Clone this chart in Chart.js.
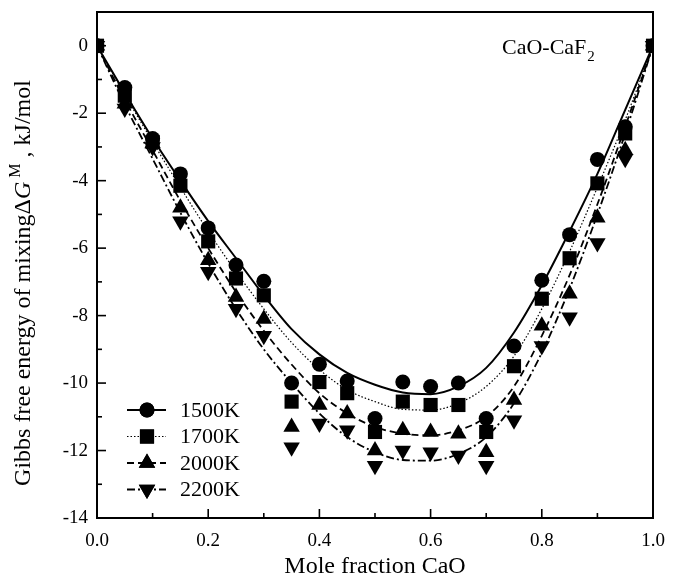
<!DOCTYPE html>
<html>
<head>
<meta charset="utf-8">
<script src="https://cdn.jsdelivr.net/npm/chart.js@4/dist/chart.umd.min.js"></script>
<style>
  html, body { margin: 0; padding: 0; background: #fff; }
  #wrap { width: 677px; height: 585px; }
</style>
</head>
<body>
<div id="wrap"><canvas id="c"></canvas></div>
<script>
// datos (CaO-CaF2, energía libre de mezcla)
const seriesNames = ['1500K', '1700K', '2000K', '2200K'];

// puntos experimentales
const xPts    = [0, 0.05, 0.1, 0.15, 0.2, 0.25, 0.3, 0.35, 0.4, 0.45, 0.5, 0.55, 0.6, 0.65, 0.7, 0.75, 0.8, 0.85, 0.9, 0.95, 1];
const pts1500 = [0, -1.24, -2.75, -3.8, -5.4, -6.5, -6.98, -10.0, -9.44, -9.94, -11.05, -9.97, -10.1, -10.0, -11.05, -8.9, -6.95, -5.6, -3.37, -2.4, 0];
const pts1700 = [0, -1.48, -2.85, -4.15, -5.8, -6.9, -7.4, -10.55, -9.97, -10.3, -11.45, -10.55, -10.65, -10.65, -11.45, -9.5, -7.5, -6.3, -4.08, -2.6, 0];
const pts2000 = [0, -1.72, -2.9, -4.8, -6.36, -7.45, -8.1, -11.3, -10.65, -10.9, -12.0, -11.4, -11.45, -11.5, -12.05, -10.5, -8.3, -7.35, -5.1, -3.1, 0];
const pts2200 = [0, -1.86, -3.0, -5.2, -6.7, -7.8, -8.6, -11.9, -11.2, -11.4, -12.45, -12.0, -12.05, -12.15, -12.45, -11.1, -8.9, -8.05, -5.85, -3.35, 0];

// curvas ajustadas
const xCurve    = [0, 0.05, 0.1, 0.15, 0.2, 0.25, 0.3, 0.35, 0.4, 0.45, 0.5, 0.55, 0.6, 0.65, 0.7, 0.75, 0.8, 0.85, 0.9, 0.95, 1];
const curve1500 = [0, -1.4, -2.75, -4.0, -5.2, -6.3, -7.4, -8.4, -9.15, -9.7, -10.05, -10.28, -10.33, -10.1, -9.55, -8.5, -7.1, -5.5, -3.8, -1.9, 0];
const curve1700 = [0, -1.45, -2.85, -4.2, -5.5, -6.7, -7.8, -8.8, -9.6, -10.2, -10.55, -10.78, -10.8, -10.6, -10.1, -9.2, -7.8, -6.1, -4.2, -2.2, 0];
const curve2000 = [0, -1.6, -3.1, -4.6, -6.0, -7.3, -8.45, -9.45, -10.3, -10.9, -11.3, -11.5, -11.55, -11.4, -11.0, -10.1, -8.6, -6.8, -4.7, -2.4, 0];
const curve2200 = [0, -1.75, -3.35, -4.95, -6.45, -7.8, -9.0, -10.0, -10.9, -11.6, -12.05, -12.28, -12.3, -12.1, -11.6, -10.6, -9.1, -7.2, -5.0, -2.6, 0];

const xTicks = [0, 0.1, 0.2, 0.3, 0.4, 0.5, 0.6, 0.7, 0.8, 0.9, 1.0];
const yTicks = [-14, -13, -12, -11, -10, -9, -8, -7, -6, -5, -4, -3, -2, -1, 0];

const SERIF = '"Liberation Serif", "Times New Roman", serif';

// estilo de cada serie: marcador + tipo de línea
const styles = [
  { point: 'circle',   radius: 7.5, rot: 0,   dash: [],           width: 2   },
  { point: 'rect',     radius: 10,  rot: 0,   dash: [1.5, 2],     width: 1.2 },
  { point: 'triangle', radius: 9.5, rot: 0,   dash: [7, 4],       width: 1.8 },
  { point: 'triangle', radius: 9.5, rot: 180, dash: [8, 3, 2, 3], width: 1.8 },
];

const ptsAll   = [pts1500, pts1700, pts2000, pts2200];
const curveAll = [curve1500, curve1700, curve2000, curve2200];

const toXY = (xs, ys) => xs.map((x, i) => ({ x, y: ys[i] }));

const datasets = [];
curveAll.forEach((c, i) => {
  datasets.push({
    label: seriesNames[i] + ' fit',
    data: toXY(xCurve, c),
    showLine: true,
    borderColor: '#000',
    borderWidth: styles[i].width,
    borderDash: styles[i].dash,
    pointRadius: 0,
    cubicInterpolationMode: 'monotone',
    order: 2,
  });
});
ptsAll.forEach((p, i) => {
  datasets.push({
    label: seriesNames[i],
    data: toXY(xPts, p),
    showLine: false,
    pointStyle: styles[i].point,
    pointRotation: styles[i].rot,
    pointRadius: styles[i].radius,
    backgroundColor: '#000',
    borderColor: '#000',
    borderWidth: 0,
    order: 1,
  });
});

// marco, ticks hacia dentro, título Y con superíndice, anotación y leyenda
const decor = {
  id: 'decor',
  afterDraw(chart) {
    const { ctx, chartArea: a, scales: { x, y } } = chart;
    ctx.save();
    ctx.strokeStyle = '#000';
    ctx.lineWidth = 2;
    ctx.strokeRect(a.left, a.top, a.right - a.left, a.bottom - a.top);

    ctx.lineWidth = 1.6;
    xTicks.forEach((v, i) => {
      const px = x.getPixelForValue(v);
      const len = i % 2 === 0 ? 9 : 5;
      ctx.beginPath(); ctx.moveTo(px, a.bottom); ctx.lineTo(px, a.bottom - len); ctx.stroke();
    });
    yTicks.forEach(v => {
      const py = y.getPixelForValue(v);
      const len = v % 2 === 0 ? 9 : 5;
      ctx.beginPath(); ctx.moveTo(a.left, py); ctx.lineTo(a.left + len, py); ctx.stroke();
    });

    // título eje Y
    ctx.fillStyle = '#000';
    ctx.translate(30, 283);
    ctx.rotate(-Math.PI / 2);
    const f = '24px ' + SERIF;
    const parts = [
      { t: 'Gibbs free energy of mixing\u0394', font: f, dy: 0 },
      { t: 'G', font: 'italic 24px ' + SERIF, dy: 0 },
      { t: ' M', font: '16px ' + SERIF, dy: -10 },
      { t: ' , kJ/mol', font: f, dy: 0 },
    ];
    let total = 0;
    parts.forEach(p => { ctx.font = p.font; total += ctx.measureText(p.t).width; });
    let cx = -total / 2;
    ctx.textBaseline = 'alphabetic';
    parts.forEach(p => {
      ctx.font = p.font;
      ctx.fillText(p.t, cx, p.dy);
      cx += ctx.measureText(p.t).width;
    });
    ctx.setTransform(1, 0, 0, 1, 0, 0);

    // anotación del sistema
    ctx.font = '22px ' + SERIF;
    ctx.fillText('CaO-CaF', 502, 54);
    const w = ctx.measureText('CaO-CaF').width;
    ctx.font = '15px ' + SERIF;
    ctx.fillText('2', 502 + w + 1, 61);

    // leyenda
    ctx.font = '22px ' + SERIF;
    ctx.textBaseline = 'middle';
    seriesNames.forEach((name, i) => {
      const ry = 410 + i * 26.5;
      const s = styles[i];
      ctx.save();
      ctx.lineWidth = s.width;
      ctx.setLineDash(s.dash);
      ctx.beginPath(); ctx.moveTo(127, ry); ctx.lineTo(166, ry); ctx.stroke();
      ctx.restore();
      Chart.helpers.drawPoint(ctx, { pointStyle: s.point, rotation: s.rot, radius: s.radius, borderWidth: 0 }, 147, ry);
      ctx.fill();
      ctx.fillText(name, 180, ry + 1);
    });
    ctx.restore();
  }
};

new Chart(document.getElementById('c'), {
  type: 'scatter',
  data: { datasets },
  options: {
    responsive: true,
    maintainAspectRatio: false,
    animation: false,
    layout: { padding: { top: 12, right: 24, left: 0, bottom: 0 } },
    plugins: { legend: { display: false }, tooltip: { enabled: false } },
    scales: {
      x: {
        type: 'linear', min: 0, max: 1,
        afterFit: s => { s.height = 67; s.paddingLeft = 0; s.paddingRight = 0; },
        afterBuildTicks: s => { s.ticks = xTicks.map(v => ({ value: v })); },
        grid: { display: false, drawTicks: false },
        border: { display: false },
        ticks: {
          padding: 12, color: '#000',
          font: { family: SERIF, size: 19 },
          callback: v => (Math.round(v * 10) % 2 === 0 ? v.toFixed(1) : ''),
        },
        title: { display: true, text: 'Mole fraction CaO', color: '#000', font: { family: SERIF, size: 24 }, padding: { top: 2 } },
      },
      y: {
        type: 'linear', min: -14, max: 1,
        afterFit: s => { s.width = 97; s.paddingTop = 0; s.paddingBottom = 0; },
        afterBuildTicks: s => { s.ticks = yTicks.map(v => ({ value: v })); },
        grid: { display: false, drawTicks: false },
        border: { display: false },
        ticks: {
          padding: 9, color: '#000',
          font: { family: SERIF, size: 19 },
          callback: v => (v % 2 === 0 ? String(v) : ''),
        },
      },
    },
  },
  plugins: [decor],
});
</script>
</body>
</html>
